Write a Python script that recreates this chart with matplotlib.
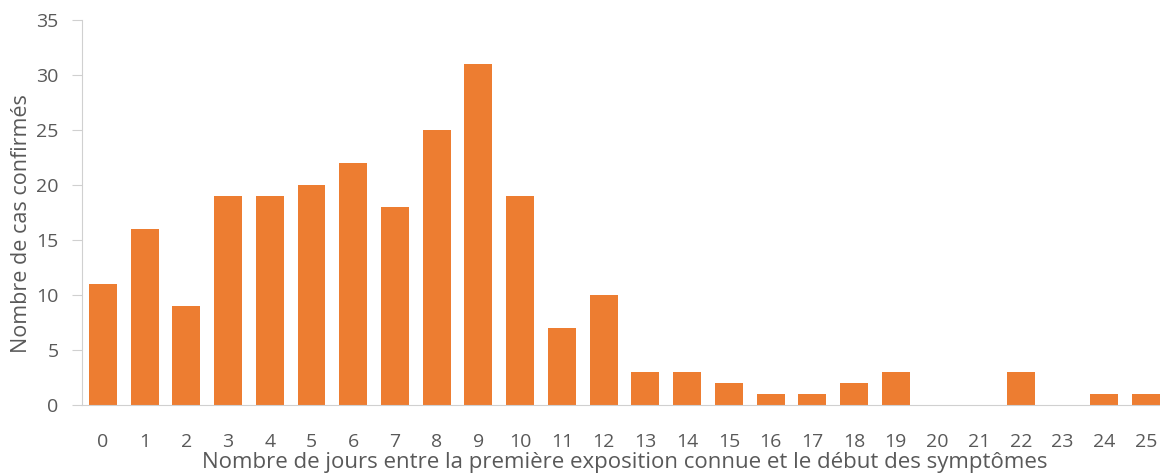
import matplotlib.pyplot as plt

jours = [str(i) for i in range(26)]
cas = [11, 16, 9, 19, 19, 20, 22, 18, 25, 31, 19, 7, 10, 3, 3, 2, 1, 1, 2, 3, 0, 0, 3, 0, 1, 1]

plt.rcParams['font.family'] = ['Open Sans', 'DejaVu Sans']
gris = '#595959'

fig = plt.figure(figsize=(11.6, 4.76), dpi=100)
ax = fig.add_axes([82 / 1160, 1 - 405 / 476, 1085 / 1160, 385 / 476])
ax.bar(range(len(cas)), cas, width=0.67, color='#ED7D31')
ax.set_xlim(-0.5, len(cas) - 0.5)
ax.set_ylim(0, 35)
ax.set_yticks(range(0, 36, 5))
ax.set_xticks(range(len(cas)))
ax.set_xticklabels(jours)
ax.tick_params(axis='x', length=0, pad=20, labelsize=14, labelcolor=gris)
ax.tick_params(axis='y', length=7, color='#D0D0D0', pad=10, labelsize=14, labelcolor=gris)
for s in ['top', 'right']:
    ax.spines[s].set_visible(False)
for s in ['left', 'bottom']:
    ax.spines[s].set_color('#D0D0D0')
ax.set_xlabel('Nombre de jours entre la première exposition connue et le début des symptômes',
              fontsize=16, color=gris, labelpad=1)
ax.set_ylabel('Nombre de cas confirmés', fontsize=15.5, color=gris)
ax.yaxis.set_label_coords(-50 / 1085, 0.47)
fig.savefig('out.png', dpi=100)
